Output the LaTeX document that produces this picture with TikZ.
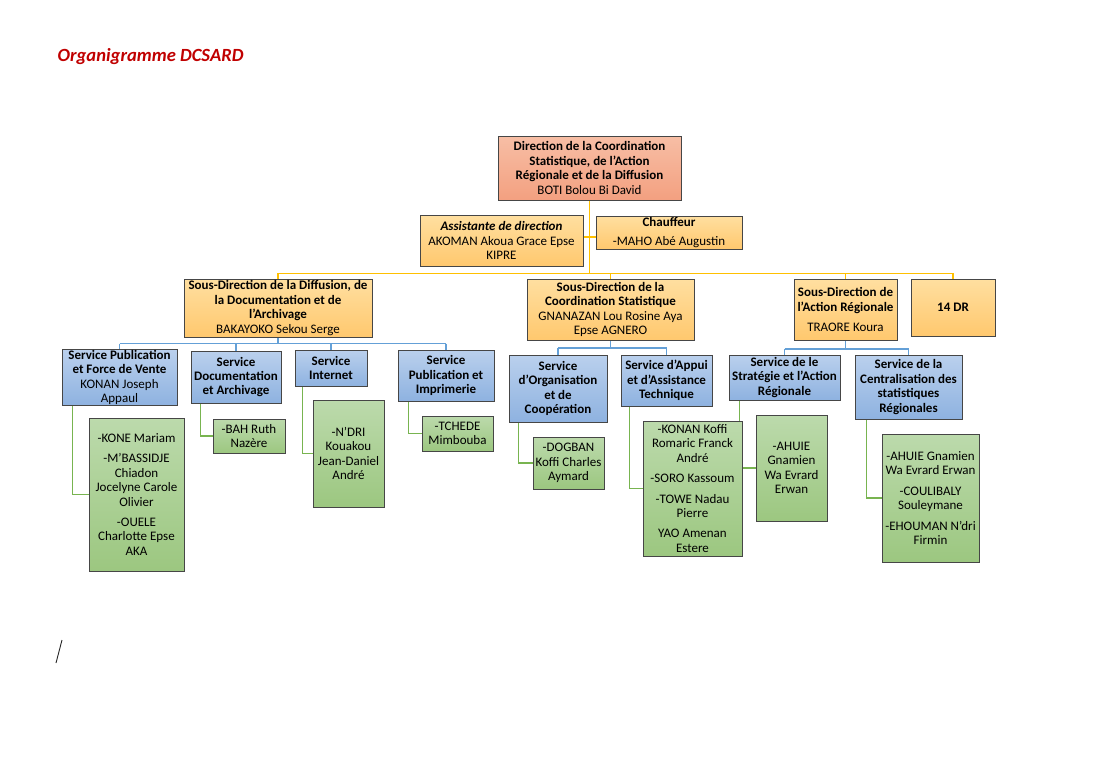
\documentclass[tikz,border=0pt]{standalone}
\usepackage{fontspec}
\setmainfont{Carlito}[Ligatures=Common]
\usetikzlibrary{backgrounds}
\definecolor{salmonT}{RGB}{247,190,165}
\definecolor{salmonB}{RGB}{243,160,128}
\definecolor{orT}{RGB}{255,223,160}
\definecolor{orB}{RGB}{255,200,110}
\definecolor{blT}{RGB}{186,208,237}
\definecolor{blB}{RGB}{142,178,224}
\definecolor{grT}{RGB}{188,218,172}
\definecolor{grB}{RGB}{156,199,128}
\definecolor{bordc}{RGB}{70,70,70}
\definecolor{yline}{RGB}{255,192,0}
\definecolor{bline}{RGB}{100,160,215}
\definecolor{gline}{RGB}{120,180,80}
\definecolor{titlered}{RGB}{192,0,0}
\newcommand\bl[1]{\textbf{#1}}
\tikzset{
  box/.style={draw=bordc, line width=0.9pt, inner sep=0.5pt, align=center,
    font=\fontsize{13}{14.4}\selectfont},
  salbox/.style={box, top color=salmonT, bottom color=salmonB},
  orbox/.style={box, top color=orT, bottom color=orB},
  blbox/.style={box, top color=blT, bottom color=blB},
  grbox/.style={box, top color=grT, bottom color=grB},
  yl/.style={draw=yline, line width=1.3pt},
  bll/.style={draw=bline, line width=1.3pt},
  gl/.style={draw=gline, line width=1.3pt},
}
\begin{document}
\begin{tikzpicture}[x=1pt,y=-1pt]
\useasboundingbox (0,0) rectangle (1106,771);
\node[anchor=west, inner sep=0pt, text=titlered,
  font=\fontsize{18.6}{22}\selectfont\bfseries\itshape] (title) at (57.5,57) {Organigramme DCSARD};

% level 0 and 1
\node[salbox, minimum width=183pt, minimum height=64pt] (dir) at (589.5,168)
  {\bl{Direction de la Coordination}\\\bl{Statistique, de l'Action}\\\bl{Régionale et de la Diffusion}\\BOTI Bolou Bi David};
\node[orbox, minimum width=163pt, minimum height=51pt] (asst) at (501.5,240.5)
  {\textbf{\textit{Assistante de direction}}\\AKOMAN Akoua Grace Epse\\KIPRE};
\node[orbox, minimum width=146pt, minimum height=33pt] (chauf) at (669,232.5)
  {\bl{Chauffeur}\\[4pt]-MAHO Abé Augustin};
\node[orbox, minimum width=188pt, minimum height=58pt] (sdd) at (278,308)
  {\bl{Sous-Direction de la Diffusion, de}\\\bl{la Documentation et de}\\\bl{l'Archivage}\\BAKAYOKO Sekou Serge};
\node[orbox, minimum width=167pt, minimum height=61pt] (sdc) at (610.5,309.5)
  {\bl{Sous-Direction de la}\\\bl{Coordination Statistique}\\GNANAZAN Lou Rosine Aya\\Epse AGNERO};
\node[orbox, minimum width=103pt, minimum height=61pt] (sda) at (845.5,309.5)
  {\bl{Sous-Direction de}\\\bl{l'Action Régionale}\\[6pt]TRAORE Koura};
\node[orbox, minimum width=84pt, minimum height=57pt] (dr) at (953,307.5)
  {\bl{14 DR}};

% services
\node[blbox, minimum width=115pt, minimum height=53pt] (s1) at (119.5,377.5)
  {\bl{Service Publication}\\\bl{et Force de Vente}\\KONAN Joseph\\Appaul};
\node[blbox, minimum width=90pt, minimum height=52pt] (s2) at (236,377)
  {\bl{Service}\\\bl{Documentation}\\\bl{et Archivage}};
\node[blbox, minimum width=72pt, minimum height=36pt] (s3) at (331,368)
  {\bl{Service}\\\bl{Internet}};
\node[blbox, minimum width=96pt, minimum height=51pt] (s4) at (446,375.5)
  {\bl{Service}\\\bl{Publication et}\\\bl{Imprimerie}};
\node[blbox, minimum width=98pt, minimum height=67pt] (s5) at (558,388.5)
  {\bl{Service}\\\bl{d'Organisation}\\\bl{et de}\\\bl{Coopération}};
\node[blbox, minimum width=91pt, minimum height=51pt] (s6) at (666.5,380.5)
  {\bl{Service d'Appui}\\\bl{et d'Assistance}\\\bl{Technique}};
\node[blbox, minimum width=111pt, minimum height=45pt] (s7) at (784.5,377.5)
  {\bl{Service de le}\\\bl{Stratégie et l'Action}\\\bl{Régionale}};
\node[blbox, minimum width=107pt, minimum height=64pt] (s8) at (908.5,387)
  {\bl{Service de la}\\\bl{Centralisation des}\\\bl{statistiques}\\\bl{Régionales}};

% staff
\node[grbox, minimum width=95pt, minimum height=153pt] (g1) at (136.5,494.5)
  {-KONE Mariam\\[6pt]-M'BASSIDJE\\Chiadon\\Jocelyne Carole\\Olivier\\[6pt]-OUELE\\Charlotte Epse\\AKA};
\node[grbox, minimum width=72pt, minimum height=34pt] (g2) at (249,436)
  {-BAH Ruth\\Nazère};
\node[grbox, minimum width=71pt, minimum height=107pt] (g3) at (348.5,453.5)
  {-N'DRI\\Kouakou\\Jean-Daniel\\André};
\node[grbox, minimum width=71pt, minimum height=35pt] (g4) at (457.5,433.5)
  {-TCHEDE\\Mimbouba};
\node[grbox, minimum width=71pt, minimum height=52pt] (g5) at (568.5,463)
  {-DOGBAN\\Koffi Charles\\Aymard};
\node[grbox, minimum width=99pt, minimum height=135pt] (g6) at (692.5,488.5)
  {-KONAN Koffi\\Romaric Franck\\André\\[6pt]-SORO Kassoum\\[6pt]-TOWE Nadau\\Pierre\\[6pt]YAO Amenan\\Estere};
\node[grbox, minimum width=71pt, minimum height=106pt] (g7) at (791.5,468)
  {-AHUIE\\Gnamien\\Wa Evrard\\Erwan};
\node[grbox, minimum width=97pt, minimum height=128pt] (g8) at (930.5,498)
  {-AHUIE Gnamien\\Wa Evrard Erwan\\[6pt]-COULIBALY\\Souleymane\\[6pt]-EHOUMAN N'dri\\Firmin};

\coordinate (ybus) at (590,273.3);
\coordinate (aux) at (590,237);
\coordinate (bus1) at (278,343.5);
\coordinate (bus2) at (611,348);
\coordinate (bus3) at (846,349);

\begin{scope}[on background layer]
  % yellow level
  \draw[yl] (dir.south) -- (dir.south |- ybus);
  \draw[yl] (asst.east |- aux) -- (chauf.west |- aux);
  \draw[yl] (sdd.north |- ybus) -- (dr.north |- ybus);
  \foreach \n in {sdd,sdc,sda,dr} \draw[yl] (\n.north |- ybus) -- (\n.north);
  % blue level
  \draw[bll] (sdd.south) -- (sdd.south |- bus1);
  \draw[bll] (s1.north |- bus1) -- (s4.north |- bus1);
  \foreach \n in {s1,s2,s3,s4} \draw[bll] (\n.north |- bus1) -- (\n.north);
  \draw[bll] (sdc.south) -- (sdc.south |- bus2);
  \draw[bll] (s5.north |- bus2) -- (s6.north |- bus2);
  \foreach \n in {s5,s6} \draw[bll] (\n.north |- bus2) -- (\n.north);
  \draw[bll] (sda.south) -- (sda.south |- bus3);
  \draw[bll] (s7.north |- bus3) -- (s8.north |- bus3);
  \foreach \n in {s7,s8} \draw[bll] (\n.north |- bus3) -- (\n.north);
  % green level
  \draw[gl] ([xshift=11pt]s1.south west) |- (g1.west);
  \draw[gl] ([xshift=10pt]s2.south west) |- (g2.west);
  \draw[gl] ([xshift=8pt]s3.south west) |- (g3.west);
  \draw[gl] ([xshift=11pt]s4.south west) |- (g4.west);
  \draw[gl] ([xshift=10pt]s5.south west) |- (g5.west);
  \draw[gl] ([xshift=9pt]s6.south west) |- (g6.west);
  \draw[gl] ([xshift=11pt]s7.south west) |- (g7.west);
  \draw[gl] ([xshift=12pt]s8.south west) |- (g8.west);
\end{scope}

\draw[line width=0.9pt, black!85] (56,663) -- (62,640);
\end{tikzpicture}
\end{document}
